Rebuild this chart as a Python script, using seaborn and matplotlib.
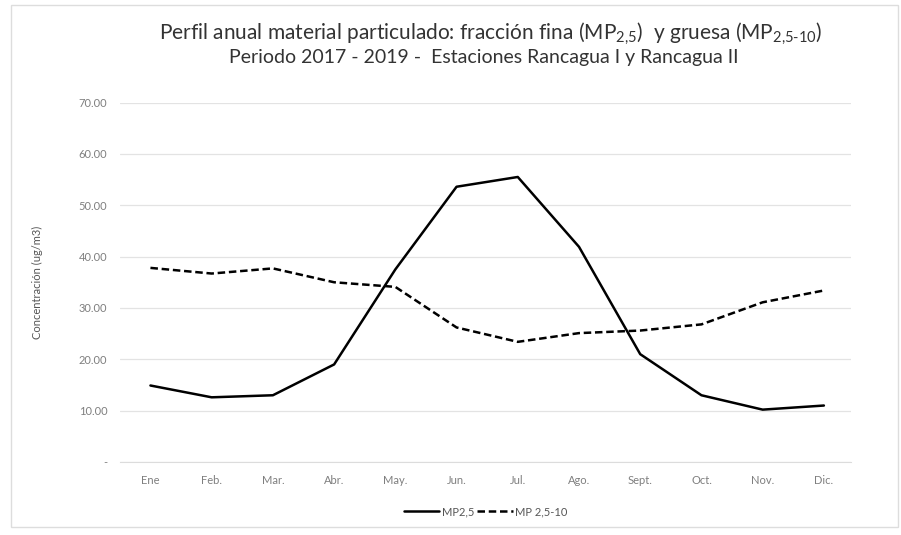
"""
Perfil anual MP2,5 y MP2,5-10, Rancagua I y II (2017-2019)
"""

import pandas as pd
import seaborn as sns
import matplotlib.pyplot as plt
from matplotlib.patches import Rectangle

MONTHS = ["Ene", "Feb.", "Mar.", "Abr.", "May.", "Jun.", "Jul.", "Ago.",
          "Sept.", "Oct.", "Nov.", "Dic."]
MP25 = [14.9, 12.6, 13.0, 19.0, 37.5, 53.6, 55.5, 41.9, 21.0, 13.0, 10.2, 11.0]
MP25_10 = [37.8, 36.7, 37.7, 35.0, 34.1, 26.2, 23.4, 25.1, 25.6, 26.8, 31.1, 33.4]
Y_TICKS = [0, 10, 20, 30, 40, 50, 60, 70]

sns.set_style("white")
plt.rcParams["font.family"] = ["Lato", "DejaVu Sans"]
plt.rcParams["mathtext.fontset"] = "custom"
plt.rcParams["mathtext.rm"] = "Lato"
plt.rcParams["mathtext.it"] = "Lato"
plt.rcParams["mathtext.default"] = "rm"

df = pd.DataFrame({"Mes": MONTHS, "MP2,5": MP25, "MP 2,5-10": MP25_10})
df["x"] = range(len(MONTHS))

fig = plt.figure(figsize=(9.01, 5.35), dpi=100)
ax = fig.add_axes([0.133, 0.1364, 0.812, 0.672])

sns.lineplot(data=df, x="x", y="MP2,5", ax=ax, color="black",
             linewidth=1.8, label="MP2,5")
sns.lineplot(data=df, x="x", y="MP 2,5-10", ax=ax, color="black",
             linewidth=1.8, linestyle=(0, (3, 1.5)), label="MP 2,5-10")

ax.set_xlim(-0.5, 11.45)
ax.set_ylim(0, 70)
ax.set_xticks(df["x"])
ax.set_xticklabels(MONTHS)
ax.set_yticks(Y_TICKS)
ax.set_yticklabels(["-"] + [f"{v:.2f}" for v in Y_TICKS[1:]])
ax.tick_params(axis="both", length=0, labelsize=8, colors="#7f7f7f", pad=9)
ax.grid(axis="y", color="#e3e3e3", linewidth=0.9)
ax.set_axisbelow(True)
for side in ["top", "right", "left"]:
    ax.spines[side].set_visible(False)
ax.spines["bottom"].set_color("#dcdcdc")

ax.set_xlabel("")
ax.set_ylabel("Concentración (ug/m3)", fontsize=8, color="#555555", labelpad=26)

ax.legend(loc="upper center", bbox_to_anchor=(0.5, -0.095), ncol=2,
          frameon=False, fontsize=8, handlelength=3.2, handletextpad=0.2,
          columnspacing=0.3, labelcolor="#555555")

fig.text(0.545, 0.937,
         r"Perfil anual material particulado: fracción fina (MP$_{2{,}5}$)  y gruesa (MP$_{2{,}5\text{-}10}$)",
         ha="center", va="center", fontsize=15, color="#333333")
fig.text(0.537, 0.893, "Periodo 2017 - 2019 -  Estaciones Rancagua I y Rancagua II",
         ha="center", va="center", fontsize=14, color="#333333")

fig.patches.append(Rectangle((0.012, 0.015), 0.985, 0.975, transform=fig.transFigure,
                             fill=False, edgecolor="#dddddd", linewidth=1))

fig.savefig("out.png", dpi=100)
